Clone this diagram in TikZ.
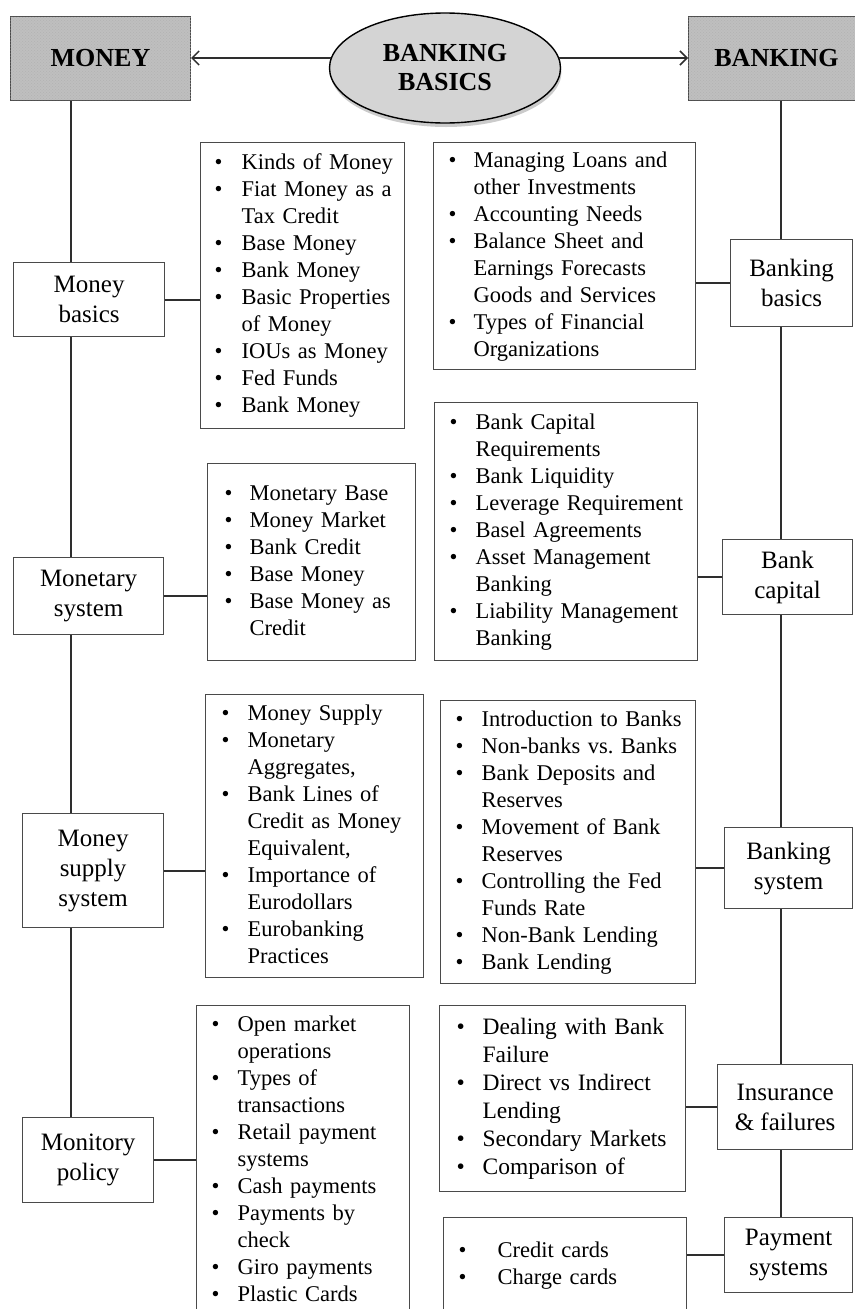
\documentclass[tikz,border=0pt]{standalone}
\usepackage{fontspec}
\setmainfont{Liberation Serif}
\usetikzlibrary{shapes.geometric,arrows.meta,shadows,patterns}
\definecolor{ln}{HTML}{2E2E2E}
\definecolor{bd}{HTML}{4A4A4A}
\frenchspacing
\begin{document}
\begin{tikzpicture}[x=1pt,y=-1pt,
  conn/.style={draw=ln, line width=1.8pt},
  hdr/.style={draw=bd, line width=1pt, fill=black!25, postaction={pattern=crosshatch dots, pattern color=white!70!black}, anchor=north west, font=\bfseries\fontsize{26}{30}\selectfont, inner sep=0pt},
  lbl/.style={draw=bd, line width=1.2pt, anchor=north west, align=center, inner sep=0pt, font=\fontsize{25}{30}\selectfont},
  listbox/.style={draw=bd, line width=1.2pt, anchor=north west, align=left, inner ysep=0pt, font=\fontsize{22.5}{27}\selectfont},
  arr/.style={draw=ln, line width=1.5pt, -{Straight Barb[length=7pt,width=14pt,line width=1.5pt]}}
]
\useasboundingbox (0,0) rectangle (854,1309);
\fill[white] (0,0) rectangle (854,1309);

% headers
\node[hdr, minimum width=180, minimum height=84] (money) at (10,16) {MONEY};
\node[hdr, minimum width=176, minimum height=84] (banking) at (688,16) {BANKING};
\node[ellipse, draw=black, line width=1.4pt, fill=black!17, minimum width=231, minimum height=110,
      align=center, font=\bfseries\fontsize{26}{29}\selectfont, inner sep=0pt,
      drop shadow={shadow xshift=1pt, shadow yshift=-4pt, fill=black!40}] (bbasics) at (445,68) {BANKING\\BASICS};

\draw[arr] (bbasics.175) -- (bbasics.175 -| money.east);
\draw[arr] (bbasics.5) -- (bbasics.5 -| banking.west);

% left column labels
\node[lbl, minimum width=151, minimum height=74] (mb) at (13,262) {Money\\basics};
\node[lbl, minimum width=150, minimum height=77] (ms) at (13,557) {Monetary\\system};
\node[lbl, minimum width=141, minimum height=114] (mss) at (22,813) {Money\\supply\\system};
\node[lbl, minimum width=131, minimum height=85] (mp) at (22,1117) {Monitory\\policy};

% right column labels
\node[lbl, minimum width=122, minimum height=87] (bb) at (730,239) {Banking\\basics};
\node[lbl, minimum width=130, minimum height=75] (bc) at (722,539) {Bank\\capital};
\node[lbl, minimum width=128, minimum height=81] (bs) at (724,827) {Banking\\system};
\node[lbl, minimum width=135, minimum height=85] (bi) at (717,1064) {Insurance\\\& failures};
\node[lbl, minimum width=128, minimum height=75] (bp) at (724,1217) {Payment\\systems};

% left lists
\node[listbox, inner xsep=14pt, text width=176pt, minimum height=286] (l1) at (200,142) {%
\begin{tabular}{@{}p{27pt}@{}l@{}}
\textbullet & Kinds of Money\\
\textbullet & Fiat Money as a\\
 & Tax Credit\\
\textbullet & Base Money\\
\textbullet & Bank Money\\
\textbullet & Basic Properties\\
 & of Money\\
\textbullet & IOUs as Money\\
\textbullet & Fed Funds\\
\textbullet & Bank Money
\end{tabular}};

\node[listbox, inner xsep=17pt, text width=174pt, minimum height=197] (l2) at (207,463) {%
\begin{tabular}{@{}p{25pt}@{}l@{}}
\textbullet & Monetary Base\\
\textbullet & Money Market\\
\textbullet & Bank Credit\\
\textbullet & Base Money\\
\textbullet & Base Money as\\
 & Credit
\end{tabular}};

\node[listbox, inner xsep=16pt, text width=186pt, minimum height=283] (l3) at (205,694) {%
\begin{tabular}{@{}p{26pt}@{}l@{}}
\textbullet & Money Supply\\
\textbullet & Monetary\\
 & Aggregates,\\
\textbullet & Bank Lines of\\
 & Credit as Money\\
 & Equivalent,\\
\textbullet & Importance of\\
 & Eurodollars\\
\textbullet & Eurobanking\\
 & Practices
\end{tabular}};

\node[listbox, inner xsep=15pt, text width=183pt, minimum height=310] (l4) at (196,1005) {%
\begin{tabular}{@{}p{26pt}@{}l@{}}
\textbullet & Open market\\
 & operations\\
\textbullet & Types of\\
 & transactions\\
\textbullet & Retail payment\\
 & systems\\
\textbullet & Cash payments\\
\textbullet & Payments by\\
 & check\\
\textbullet & Giro payments\\
\textbullet & Plastic Cards
\end{tabular}};

% right lists
\node[listbox, inner xsep=15pt, text width=232pt, minimum height=227] (r1) at (433,142) {%
\begin{tabular}{@{}p{25pt}@{}l@{}}
\textbullet & Managing Loans and\\
 & other Investments\\
\textbullet & Accounting Needs\\
\textbullet & Balance Sheet and\\
 & Earnings Forecasts\\
 & Goods and Services\\
\textbullet & Types of Financial\\
 & Organizations
\end{tabular}};

\node[listbox, inner xsep=15pt, text width=233pt, minimum height=258] (r2) at (434,402) {%
\begin{tabular}{@{}p{26pt}@{}l@{}}
\textbullet & Bank Capital\\
 & Requirements\\
\textbullet & Bank Liquidity\\
\textbullet & Leverage Requirement\\
\textbullet & Basel Agreements\\
\textbullet & Asset Management\\
 & Banking\\
\textbullet & Liability Management\\
 & Banking
\end{tabular}};

\node[listbox, inner xsep=15pt, text width=225pt, minimum height=283] (r3) at (440,700) {%
\begin{tabular}{@{}p{26pt}@{}l@{}}
\textbullet & Introduction to Banks\\
\textbullet & Non-banks vs. Banks\\
\textbullet & Bank Deposits and\\
 & Reserves\\
\textbullet & Movement of Bank\\
 & Reserves\\
\textbullet & Controlling the Fed\\
 & Funds Rate\\
\textbullet & Non-Bank Lending\\
\textbullet & Bank Lending
\end{tabular}};

\node[listbox, inner xsep=17pt, text width=212pt, minimum height=186, font=\fontsize{23.5}{28}\selectfont] (r4) at (439,1005) {%
\begin{tabular}{@{}p{26pt}@{}l@{}}
\textbullet & Dealing with Bank\\
 & Failure\\
\textbullet & Direct vs Indirect\\
 & Lending\\
\textbullet & Secondary Markets\\
\textbullet & Comparison of
\end{tabular}};

\node[listbox, inner xsep=15pt, text width=213pt, minimum height=96] (r5) at (443,1217) {%
\begin{tabular}{@{}p{39pt}@{}l@{}}
\textbullet & Credit cards\\
\textbullet & Charge cards
\end{tabular}};

% vertical spines
\coordinate (L) at (71,0);
\coordinate (R) at (781,0);
\draw[conn] (money.south -| L) -- (mb.north -| L);
\draw[conn] (mb.south -| L) -- (ms.north -| L);
\draw[conn] (ms.south -| L) -- (mss.north -| L);
\draw[conn] (mss.south -| L) -- (mp.north -| L);
\draw[conn] (banking.south -| R) -- (bb.north -| R);
\draw[conn] (bb.south -| R) -- (bc.north -| R);
\draw[conn] (bc.south -| R) -- (bs.north -| R);
\draw[conn] (bs.south -| R) -- (bi.north -| R);
\draw[conn] (bi.south -| R) -- (bp.north -| R);

% horizontal links
\draw[conn] (mb.east) -- (mb.east -| l1.west);
\draw[conn] (ms.east) -- (ms.east -| l2.west);
\draw[conn] (mss.east) -- (mss.east -| l3.west);
\draw[conn] (mp.east) -- (mp.east -| l4.west);
\draw[conn] (bb.west) -- (bb.west -| r1.east);
\draw[conn] (bc.west) -- (bc.west -| r2.east);
\draw[conn] (bs.west) -- (bs.west -| r3.east);
\draw[conn] (bi.west) -- (bi.west -| r4.east);
\draw[conn] (bp.west) -- (bp.west -| r5.east);
\end{tikzpicture}
\end{document}
